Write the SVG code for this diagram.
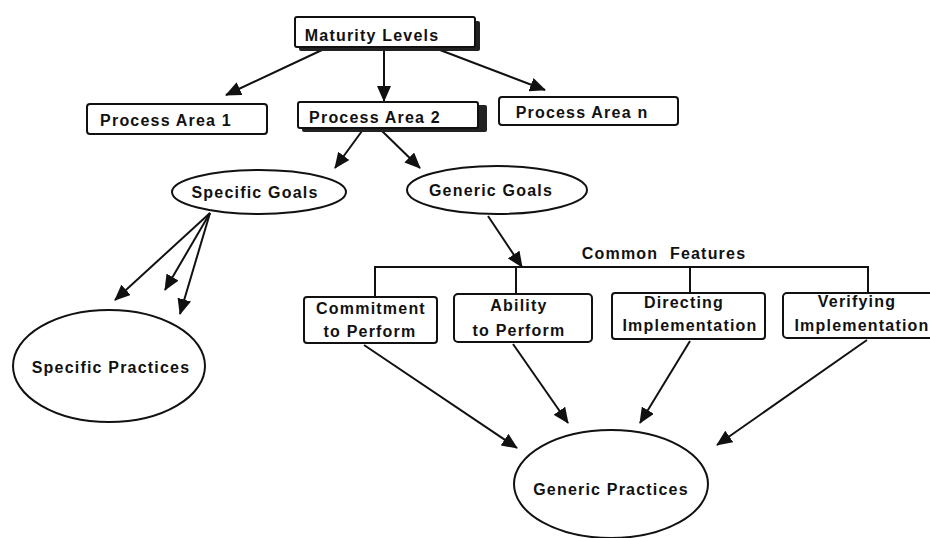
<svg xmlns="http://www.w3.org/2000/svg" width="930" height="538" viewBox="0 0 930 538">
<defs>
<marker id="arr" markerUnits="userSpaceOnUse" markerWidth="16" markerHeight="14" refX="15" refY="7" orient="auto">
<path d="M0,0 L16,7 L0,14 z" fill="#111"/>
</marker>
<style>
.box{fill:#fff;stroke:#111;stroke-width:2}
.shadow{fill:#222;stroke:none}
.ell{fill:#fff;stroke:#111;stroke-width:2}
.t{font-family:"Liberation Sans",Arial,sans-serif;font-weight:bold;font-size:16px;letter-spacing:1.2px;fill:#111;text-anchor:middle}
.c{stroke:#111;stroke-width:2;fill:none}
.ca{stroke:#111;stroke-width:2;fill:none;marker-end:url(#arr)}
</style>
</defs>
<rect width="930" height="538" fill="#fff"/>

<g id="connectors">
<line class="ca" x1="322" y1="50" x2="226" y2="95"/>
<line class="ca" x1="384" y1="49" x2="384" y2="101"/>
<line class="ca" x1="440" y1="50" x2="545" y2="90"/>
<line class="ca" x1="362" y1="131" x2="335" y2="168"/>
<line class="ca" x1="382" y1="131" x2="420" y2="168"/>
<line class="ca" x1="488" y1="216" x2="522" y2="267"/>
<line class="ca" x1="210" y1="213" x2="115" y2="300"/>
<line class="ca" x1="210" y1="213" x2="165" y2="290"/>
<line class="ca" x1="210" y1="213" x2="180" y2="314"/>
<path class="c" d="M375,297 V267 H868 V293 M516,267 V294 M690,267 V293"/>
<line class="ca" x1="364" y1="345" x2="517" y2="448"/>
<line class="ca" x1="513" y1="344" x2="568" y2="423"/>
<line class="ca" x1="690" y1="341" x2="640" y2="423"/>
<line class="ca" x1="867" y1="340" x2="717" y2="445"/>
</g>

<g id="maturity-levels">
<rect class="shadow" x="299" y="21" width="181" height="30" rx="2"/>
<rect class="box" x="295" y="17" width="180" height="30" rx="2"/>
<text class="t" x="372" y="41">Maturity Levels</text>
</g>

<g id="process-area-1">
<rect class="box" x="87" y="104" width="180" height="30" rx="3"/>
<text class="t" x="166" y="126">Process Area 1</text>
</g>

<g id="process-area-2">
<rect class="shadow" x="302" y="105" width="185" height="27" rx="2"/>
<rect class="box" x="298" y="102" width="180" height="26" rx="2"/>
<text class="t" x="375" y="123">Process Area 2</text>
</g>

<g id="process-area-n">
<rect class="box" x="499" y="97" width="179" height="28" rx="3"/>
<text class="t" x="582" y="118">Process Area n</text>
</g>

<g id="specific-goals">
<ellipse class="ell" cx="259" cy="192" rx="87" ry="22"/>
<text class="t" x="255" y="198">Specific Goals</text>
</g>

<g id="generic-goals">
<ellipse class="ell" cx="497" cy="190" rx="90" ry="24"/>
<text class="t" x="491" y="196">Generic Goals</text>
</g>

<g id="common-features">
<text class="t" x="664" y="259" style="word-spacing:6px">Common Features</text>
</g>

<g id="commitment">
<rect class="box" x="304" y="297" width="133" height="46" rx="3"/>
<text class="t" x="371" y="314">Commitment</text>
<text class="t" x="370" y="337">to Perform</text>
</g>

<g id="ability">
<rect class="box" x="454" y="294" width="138" height="48" rx="4"/>
<text class="t" x="519" y="311">Ability</text>
<text class="t" x="519" y="336">to Perform</text>
</g>

<g id="directing">
<rect class="box" x="612" y="293" width="153" height="46" rx="3"/>
<text class="t" x="684" y="308">Directing</text>
<text class="t" x="690" y="331">Implementation</text>
</g>

<g id="verifying">
<rect class="box" x="783" y="293" width="160" height="45" rx="4"/>
<text class="t" x="857" y="307">Verifying</text>
<text class="t" x="862" y="331">Implementation</text>
</g>

<g id="specific-practices">
<ellipse class="ell" cx="109" cy="366" rx="96" ry="56"/>
<text class="t" x="111" y="373">Specific Practices</text>
</g>

<g id="generic-practices">
<ellipse class="ell" cx="611" cy="484" rx="97" ry="54"/>
<text class="t" x="611" y="495">Generic Practices</text>
</g>
</svg>
